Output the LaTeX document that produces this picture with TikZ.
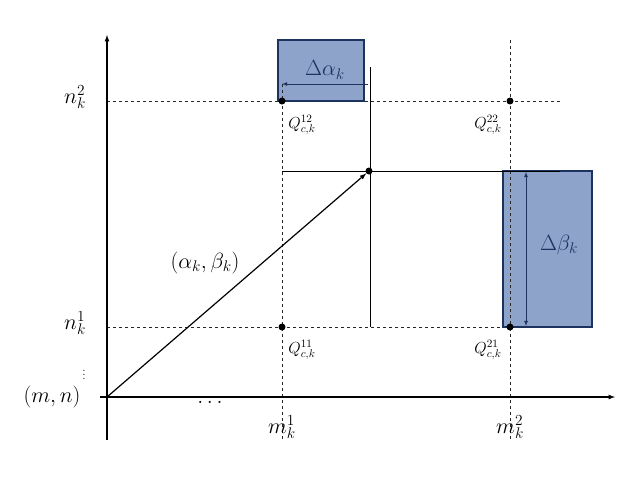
\documentclass[tikz,border=0pt]{standalone}
\usepackage{fix-cm}
\definecolor{bfill}{RGB}{141,163,201}
\definecolor{bdraw}{RGB}{30,50,95}
\begin{document}
\begin{tikzpicture}[x=1pt,y=-1pt,
 dsh/.style={dashed,gray!30!black,line width=0.8pt},
 box/.style={draw=bdraw,fill=bfill,line width=1.5pt},
 dot/.style={circle,fill=black,inner sep=0pt,minimum size=7pt},
 big/.style={font=\fontsize{22}{26}\selectfont},
 sm/.style={font=\fontsize{16}{19}\selectfont}]
\useasboundingbox (0,0) rectangle (628,493);
\coordinate (O) at (107,397);
\draw[dsh] (107,101) -- (560,101);
\draw[dsh] (107,327) -- (510,327);
\draw[dsh] (282,40) -- (282,440);
\draw[dsh] (510,40) -- (510,440);
\draw[box] (278,40) rectangle (364,101);
\draw[box] (503,171) rectangle (592,327);
\draw[dsh] (510,171) -- (510,327);
\draw[dsh] (282,84) -- (282,101);
\draw[line width=1pt] (370,67) -- (370,327);
\draw[line width=1pt] (282,171) -- (560,171);
\node[dot] (P) at (369,171) {};
\draw[-latex,line width=1.2pt] (O) -- (P);
\draw[-latex,line width=1.2pt] (107,440) -- (107,35);
\draw[-latex,line width=1.2pt] (100,397) -- (615,397);
\draw[bdraw,-latex,line width=0.8pt] (368,84) -- (282,84);
\draw[bdraw,latex-latex,line width=0.8pt] (526,172) -- (526,326);
\node[dot] (q12) at (282,101) {};
\node[dot] (q22) at (510,101) {};
\node[dot] (q11) at (282,327) {};
\node[dot] (q21) at (510,327) {};
\node[big,bdraw] (da) at (325,70) {$\Delta\alpha_k$};
\node[big,bdraw] (db) at (559,245) {$\Delta\beta_k$};
\node[big] (n2) at (75,97) {$n_k^2$};
\node[big] (n1) at (75,323) {$n_k^1$};
\node[font=\large,inner sep=0pt] (vd) at (84,372) {$\vdots$};
\node[big] (mn) at (52,397) {$(m,n)$};
\node[big] (dd) at (210,402) {$\dots$};
\node[big] (m1) at (282,427) {$m_k^1$};
\node[big] (m2) at (510,427) {$m_k^2$};
\node[big] (ab) at (205,263) {$(\alpha_k,\beta_k)$};
\node[sm] (l12) at (302,125) {$Q_{c,k}^{12}$};
\node[sm] (l22) at (488,125) {$Q_{c,k}^{22}$};
\node[sm] (l11) at (302,350) {$Q_{c,k}^{11}$};
\node[sm] (l21) at (488,350) {$Q_{c,k}^{21}$};
\end{tikzpicture}
\end{document}
